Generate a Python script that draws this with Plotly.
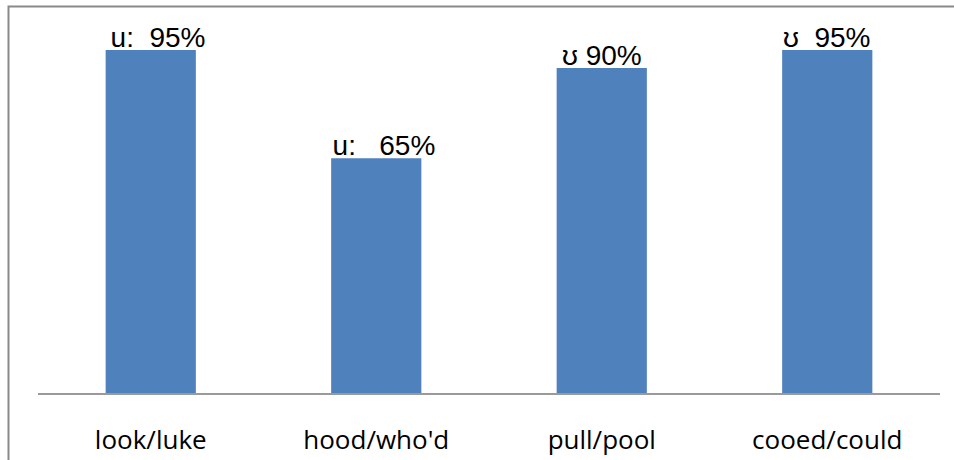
import plotly.graph_objects as go

categories = ["look/luke", "hood/who'd", "pull/pool", "cooed/could"]
values = [95, 65, 90, 95]
vowels = ["\u00a0\u00a0u:\u00a0\u00a0", "\u00a0\u00a0u:\u00a0\u00a0\u00a0", "\u028a\u00a0", "\u028a\u00a0\u00a0"]
labels = [f"{v}{n}%" for v, n in zip(vowels, values)]

W, H = 954, 460
ml, mr, mt, mb = 38, 14, 32, 67
pw, ph = W - ml - mr, H - mt - mb

fig = go.Figure(go.Bar(
    x=categories, y=values,
    marker=dict(color="#4F81BD", line=dict(width=0)),
    cliponaxis=False, width=0.4,
))

for c, v, t in zip(categories, values, labels):
    fig.add_annotation(x=c, y=v, text=t, showarrow=False, yanchor="bottom",
                       yshift=-5, xanchor="center",
                       font=dict(family="Liberation Sans, Arial", size=28, color="#000000"))

# outer chart border (px -> paper)
bx = (8.5 - ml) / pw
by = (H - mb - 6.5) / ph
fig.add_shape(type="rect", xref="paper", yref="paper",
              x0=bx, x1=1.2, y0=-0.5, y1=by,
              line=dict(color="#898989", width=2), fillcolor="rgba(0,0,0,0)")

fig.update_layout(
    width=W, height=H, margin=dict(l=ml, r=mr, t=mt, b=mb, autoexpand=False),
    paper_bgcolor="white", plot_bgcolor="white", showlegend=False,
    xaxis=dict(showline=True, linecolor="#9a9a9a", linewidth=2, ticks="",
               showgrid=False, ticklabelstandoff=23, automargin=False,
               tickfont=dict(family="Open Sans", size=26, color="#000000")),
    yaxis=dict(range=[0, 100], visible=False, showgrid=False, automargin=False),
)
fig.write_html("out.html")
